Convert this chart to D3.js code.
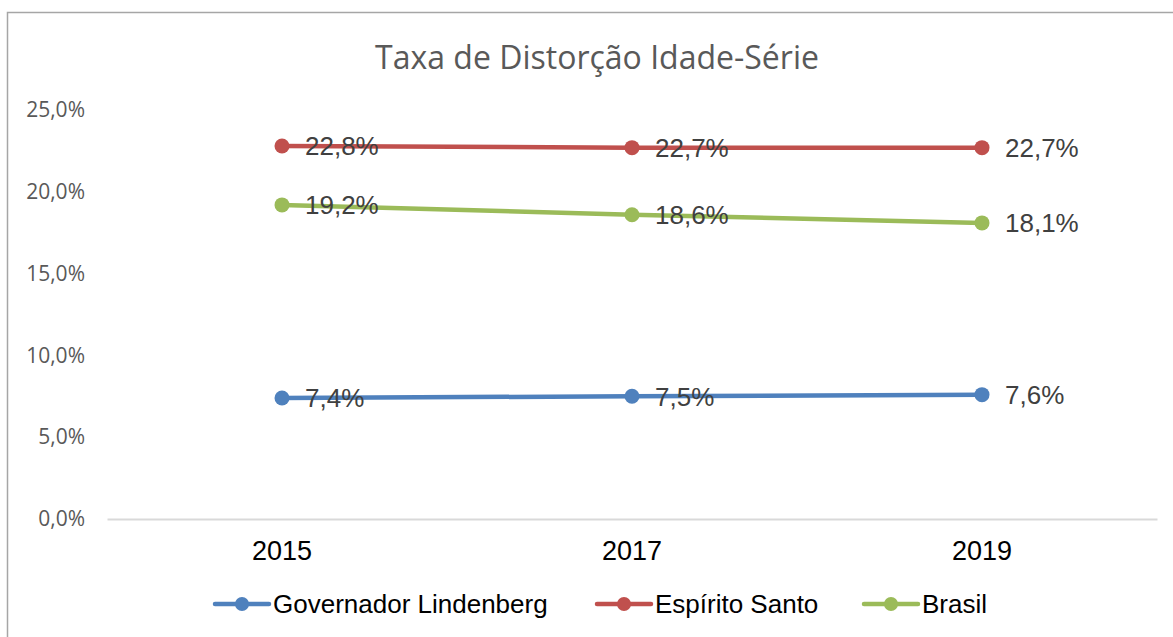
<!DOCTYPE html>
<html>
<head>
<meta charset="utf-8">
<script src="https://cdn.jsdelivr.net/npm/d3@7"></script>
<style>
  body { margin: 0; background: #fff; }
</style>
</head>
<body>
<div id="chart"></div>
<script>
// Data
var years = ["2015", "2017", "2019"];
var seriesNames = ["Governador Lindenberg", "Espírito Santo", "Brasil"];
var governadorValues = [7.4, 7.5, 7.6];
var espiritoValues = [22.8, 22.7, 22.7];
var brasilValues = [19.2, 18.6, 18.1];
var yTicks = [0, 5, 10, 15, 20, 25];
var colors = ["#4f81bd", "#c0504d", "#9bbb59"];

var svgWidth = 1173;
var svgHeight = 637;

var chartMargin = { top: 110, right: 16, bottom: 118, left: 107 };
var chartWidth = svgWidth - chartMargin.left - chartMargin.right;
var chartHeight = svgHeight - chartMargin.top - chartMargin.bottom;

var series = [governadorValues, espiritoValues, brasilValues].map(function(vals, i) {
  return { name: seriesNames[i], color: colors[i], values: vals.map(function(v, j) { return { year: years[j], value: v }; }) };
});

var svg = d3.select("#chart")
  .append("svg")
  .attr("width", svgWidth)
  .attr("height", svgHeight);

// outer frame
svg.append("rect")
  .attr("x", 7.5).attr("y", 12.5)
  .attr("width", svgWidth + 20).attr("height", svgHeight + 20)
  .attr("fill", "none").attr("stroke", "#a6a6a6").attr("stroke-width", 1.5);

svg.append("text")
  .attr("x", 597).attr("y", 69)
  .attr("text-anchor", "middle")
  .attr("font-family", "'Open Sans', sans-serif")
  .attr("font-size", "32px")
  .attr("fill", "#595959")
  .text("Taxa de Distorção Idade-Série");

var chartGroup = svg.append("g")
  .attr("transform", `translate(${chartMargin.left}, ${chartMargin.top})`);

var xScale = d3.scaleBand().domain(years).range([0, chartWidth]);
var yScale = d3.scaleLinear().domain([0, 25]).range([chartHeight, 0]);

// y axis labels (no line)
var yAxis = chartGroup.append("g")
  .call(d3.axisLeft(yScale).tickValues(yTicks).tickSize(0).tickPadding(22)
    .tickFormat(function(d) { return d3.format(".1f")(d).replace(".", ",") + "%"; }));
yAxis.select(".domain").remove();
yAxis.selectAll("text")
  .attr("font-family", "'Open Sans', sans-serif")
  .attr("font-size", "21px")
  .attr("fill", "#595959");

// x axis
var xAxis = chartGroup.append("g")
  .attr("transform", `translate(0, ${chartHeight})`)
  .call(d3.axisBottom(xScale).tickSize(0).tickPadding(22));
xAxis.select(".domain").attr("stroke", "#d9d9d9").attr("stroke-width", 2);
xAxis.selectAll("text")
  .attr("font-family", "'Liberation Sans', Arial, sans-serif")
  .attr("font-size", "27px")
  .attr("fill", "#000");

var line = d3.line()
  .x(function(d) { return xScale(d.year) + xScale.bandwidth() / 2; })
  .y(function(d) { return yScale(d.value); });

var fmt = function(v) { return d3.format(".1f")(v).replace(".", ",") + "%"; };

series.forEach(function(s) {
  chartGroup.append("path")
    .datum(s.values)
    .attr("d", line)
    .attr("fill", "none")
    .attr("stroke", s.color)
    .attr("stroke-width", 4.5)
    .attr("stroke-linecap", "round");

  chartGroup.selectAll(null)
    .data(s.values)
    .enter()
    .append("circle")
    .attr("cx", function(d) { return xScale(d.year) + xScale.bandwidth() / 2; })
    .attr("cy", function(d) { return yScale(d.value); })
    .attr("r", 7.5)
    .attr("fill", s.color);

  chartGroup.selectAll(null)
    .data(s.values)
    .enter()
    .append("text")
    .attr("x", function(d) { return xScale(d.year) + xScale.bandwidth() / 2 + 23; })
    .attr("y", function(d) { return yScale(d.value); })
    .attr("dy", "0.36em")
    .attr("font-family", "'Liberation Sans', Arial, sans-serif")
    .attr("font-size", "26px")
    .attr("fill", "#404040")
    .text(function(d) { return fmt(d.value); });
});

// legend
var legendX = [213, 595, 862];
var legend = svg.append("g").attr("transform", "translate(0, 604)");
series.forEach(function(s, i) {
  var g = legend.append("g").attr("transform", `translate(${legendX[i]}, 0)`);
  g.append("line")
    .attr("x1", 2).attr("x2", 56).attr("y1", 0).attr("y2", 0)
    .attr("stroke", s.color).attr("stroke-width", 4.5).attr("stroke-linecap", "round");
  g.append("circle").attr("cx", 29).attr("cy", 0).attr("r", 7).attr("fill", s.color);
  g.append("text")
    .attr("x", 60).attr("y", 0).attr("dy", "0.36em")
    .attr("font-family", "'Liberation Sans', Arial, sans-serif")
    .attr("font-size", "26px")
    .attr("fill", "#000")
    .text(s.name);
});
</script>
</body>
</html>
